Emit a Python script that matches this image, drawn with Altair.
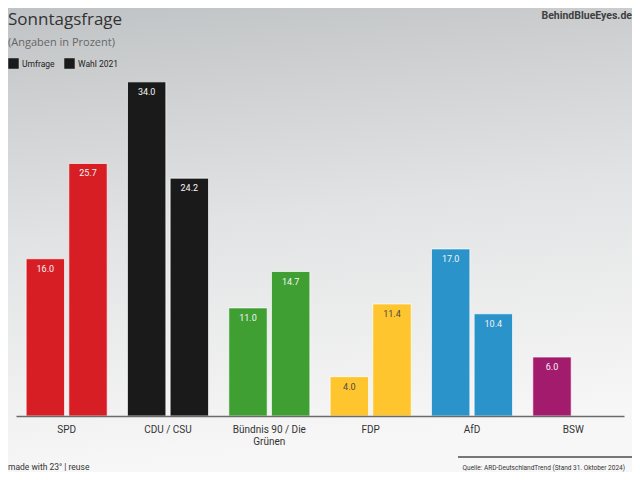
import altair as alt
import pandas as pd

parties = ["SPD", "CDU / CSU", "Bündnis 90 / Die Grünen", "FDP", "AfD", "BSW"]
colors = ["#d81e25", "#1a1a1a", "#3f9f32", "#fec52e", "#2a93c9", "#a31b6c"]
umfrage = [16.0, 34.0, 11.0, 4.0, 17.0, 6.0]
wahl2021 = [25.7, 24.2, 14.7, 11.4, 10.4, None]
series = ["Umfrage", "Wahl 2021"]

rows = []
for p, u, w in zip(parties, umfrage, wahl2021):
    if u is not None:
        rows.append({"party": p, "series": "Umfrage", "value": u})
    if w is not None:
        rows.append({"party": p, "series": "Wahl 2021", "value": w})
df = pd.DataFrame(rows)

W, H = 608, 344
FONT = "Roboto"

base = alt.Chart(df)

x = alt.X(
    "party:N",
    sort=parties,
    scale=alt.Scale(paddingInner=0.2, paddingOuter=0.1),
    axis=alt.Axis(
        title=None,
        labelAngle=0,
        ticks=False,
        domainColor="#6b6b6b",
        domainWidth=1.5,
        labelFontSize=10,
        labelColor="#333333",
        labelFont=FONT,
        labelPadding=8,
        zindex=2,
        labelExpr="datum.label == 'Bündnis 90 / Die Grünen' ? ['Bündnis 90 / Die', 'Grünen'] : datum.label",
    ),
)
xo = alt.XOffset("series:N", sort=series, scale=alt.Scale(paddingInner=0.1))
y = alt.Y("value:Q", scale=alt.Scale(domain=[0, 35]), axis=None)

bars = base.mark_bar(stroke="#ffffff", strokeWidth=1, strokeOpacity=0.7).encode(
    x=x,
    xOffset=xo,
    y=y,
    color=alt.Color("party:N", scale=alt.Scale(domain=parties, range=colors), legend=None),
    opacity=alt.Opacity(
        "series:N",
        sort=series,
        scale=alt.Scale(domain=series, range=[1, 1]),
        legend=alt.Legend(
            title=None,
            orient="none",
            legendX=-8,
            legendY=-14,
            direction="horizontal",
            symbolType="square",
            symbolFillColor="#1a1a1a",
            symbolStrokeColor="#1a1a1a",
            symbolOpacity=1,
            symbolSize=80,
            labelFontSize=8.5,
            labelFont=FONT,
            labelColor="#222222",
            labelOffset=3,
            columnPadding=7,
        ),
    ),
)

labels = base.mark_text(dy=10, baseline="middle", fontSize=9, font=FONT).encode(
    x=x,
    xOffset=xo,
    y=y,
    text=alt.Text("value:Q", format=".1f"),
    color=alt.condition("datum.party == 'FDP'", alt.value("#4a4a4a"), alt.value("#f4f4f4")),
)

one = pd.DataFrame({"a": [0]})
bg = alt.Chart(one).mark_rect(
    color=alt.LinearGradient(
        gradient="linear",
        stops=[
            alt.GradientStop(color="#c0c3c5", offset=0),
            alt.GradientStop(color="#e2e3e4", offset=0.5),
            alt.GradientStop(color="#f7f7f7", offset=1),
        ],
        x1=0, x2=0.15, y1=0, y2=1,
    )
).encode(x=alt.value(-8), x2=alt.value(W + 8), y=alt.value(-64), y2=alt.value(H + 56))

def txt(t, xv, yv, size, color, align="left", weight="normal", font=FONT):
    return alt.Chart(pd.DataFrame({"t": [t]})).mark_text(
        align=align, baseline="alphabetic", fontSize=size, color=color, fontWeight=weight, font=font
    ).encode(text="t:N", x=alt.value(xv), y=alt.value(yv))

title = txt("Sonntagsfrage", -8, -47, 17, "#333333", font="Open Sans")
subtitle = txt("(Angaben in Prozent)", -8, -26, 11, "#666666", font="Open Sans")
brand = txt("BehindBlueEyes.de", W + 8, -53, 10.5, "#3f3f3f", align="right", weight="bold")
made = txt("made with 23° | reuse", -8, 398, 8.5, "#333333")
source = txt("Quelle: ARD-DeutschlandTrend (Stand 31. Oktober 2024)", W + 1, 398, 6.5, "#333333", align="right")
line = alt.Chart(one).mark_rule(color="#777777", strokeWidth=2).encode(
    x=alt.value(442), x2=alt.value(W + 8), y=alt.value(385)
)

chart = alt.layer(bg, bars, labels, title, subtitle, brand, made, source, line).properties(
    width=W,
    height=H,
    padding={"left": 8, "top": 64, "right": 8, "bottom": 56},
    autosize=alt.AutoSizeParams(type="none"),
).configure_view(stroke=None).configure(background="#f3f3f3")

chart.save("out.html", embed_options={"renderer": "svg", "actions": False})
